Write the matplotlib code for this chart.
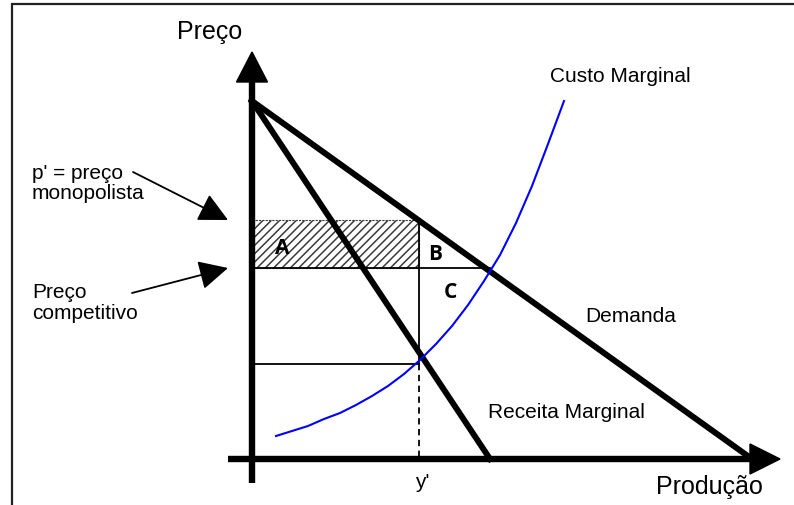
import matplotlib
matplotlib.use('Agg')
import matplotlib.pyplot as plt
from matplotlib.patches import Rectangle, Polygon

plt.rcParams['font.family'] = ['Liberation Sans', 'DejaVu Sans']
plt.rcParams['hatch.linewidth'] = 1.1

# unidades: origem no cruzamento dos eixos (quantidade, preço)
demanda_q = [0, 500]
demanda_p = [358, 0]
receita_q = [0, 238]
receita_p = [358, 0]
custo_q = [24, 40, 56, 72, 88, 104, 120, 136, 152, 168, 184, 200, 216, 232,
           248, 264, 280, 296, 312]
custo_p = [23, 28, 33, 40, 46, 54, 63, 73, 85, 99, 115, 133, 154, 178,
           204, 236, 273, 315, 358]

preco_monopolio = 239
preco_competitivo = 191
preco_rmg_cmg = 95
y_linha = 167
q_competitivo = 238

fig = plt.figure(figsize=(7.94, 5.06), dpi=100)
ax = fig.add_axes([0, 0, 1, 1])
ax.set_xlim(-252, 542)
ax.set_ylim(-46, 460)
ax.axis('off')

# moldura
ax.plot([-240, -240, 542], [-46, 455, 455], color='#222', lw=1.6,
        solid_joinstyle='miter', clip_on=False)

# area A (hachurada)
ax.add_patch(Rectangle((0, preco_competitivo), y_linha,
                       preco_monopolio - preco_competitivo,
                       facecolor='white', edgecolor='#3a3a3a', hatch='////',
                       lw=0.8, ls=(0, (2, 1)), zorder=1))

# linhas finas
ax.plot([0, q_competitivo], [preco_competitivo] * 2, color='black', lw=1.3, zorder=2)
ax.plot([0, y_linha], [preco_rmg_cmg] * 2, color='black', lw=1.3, zorder=2)
ax.plot([y_linha] * 2, [preco_monopolio, preco_rmg_cmg], color='black', lw=1.3, zorder=2)
ax.plot([y_linha] * 2, [preco_rmg_cmg, 0], color='black', lw=1.3,
        ls=(0, (3.5, 2.5)), zorder=2)

# demanda e receita marginal
ax.plot(demanda_q, demanda_p, color='black', lw=4.3, zorder=3)
ax.plot(receita_q, receita_p, color='black', lw=4.3, zorder=3)

# eixos
ax.plot([0, 0], [-24, 380], color='black', lw=4.6, solid_capstyle='butt', zorder=4)
ax.plot([-24, 500], [0, 0], color='black', lw=4.6, solid_capstyle='butt', zorder=4)
ax.add_patch(Polygon([(0, 407), (-15.5, 377), (15.5, 377)], closed=True,
                     color='black', zorder=4))
ax.add_patch(Polygon([(528, 0), (498, 15), (498, -15)], closed=True,
                     color='black', zorder=4))

# custo marginal
ax.plot(custo_q, custo_p, color='#0000ff', lw=1.5, zorder=5)

# textos
ax.text(-75, 421, 'Preço', fontsize=18, va='baseline', ha='left')
ax.text(404, -34, 'Produção', fontsize=18, va='baseline', ha='left')
ax.text(298, 378, 'Custo Marginal', fontsize=15, va='baseline', ha='left')
ax.text(333, 138, 'Demanda', fontsize=15, va='baseline', ha='left')
ax.text(236, 42, 'Receita Marginal', fontsize=15, va='baseline', ha='left')
ax.text(170, -28, "y'", fontsize=15, va='baseline', ha='center')

ax.text(-220, 276.5, "p' = preço\nmonopolista", fontsize=15, va='center',
        ha='left', linespacing=1.1)
ax.text(-220, 157, 'Preço\ncompetitivo', fontsize=15, va='center',
        ha='left', linespacing=1.1)

seta = dict(arrowstyle='-|>,head_length=0.9,head_width=0.45', mutation_scale=20,
            color='black', lw=1.3, shrinkA=0, shrinkB=0)
ax.annotate('', xy=(-24, 239), xytext=(-119, 287), arrowprops=seta)
ax.annotate('', xy=(-24, 191), xytext=(-120, 166), arrowprops=seta)

for letra, q, p in [('A', 30, 212), ('B', 183, 205), ('C', 198, 168)]:
    ax.text(q, p, letra, fontsize=15, fontweight='bold', family='Open Sans',
            ha='center', va='center', zorder=6)

fig.savefig('out.png', dpi=100, facecolor='white')
